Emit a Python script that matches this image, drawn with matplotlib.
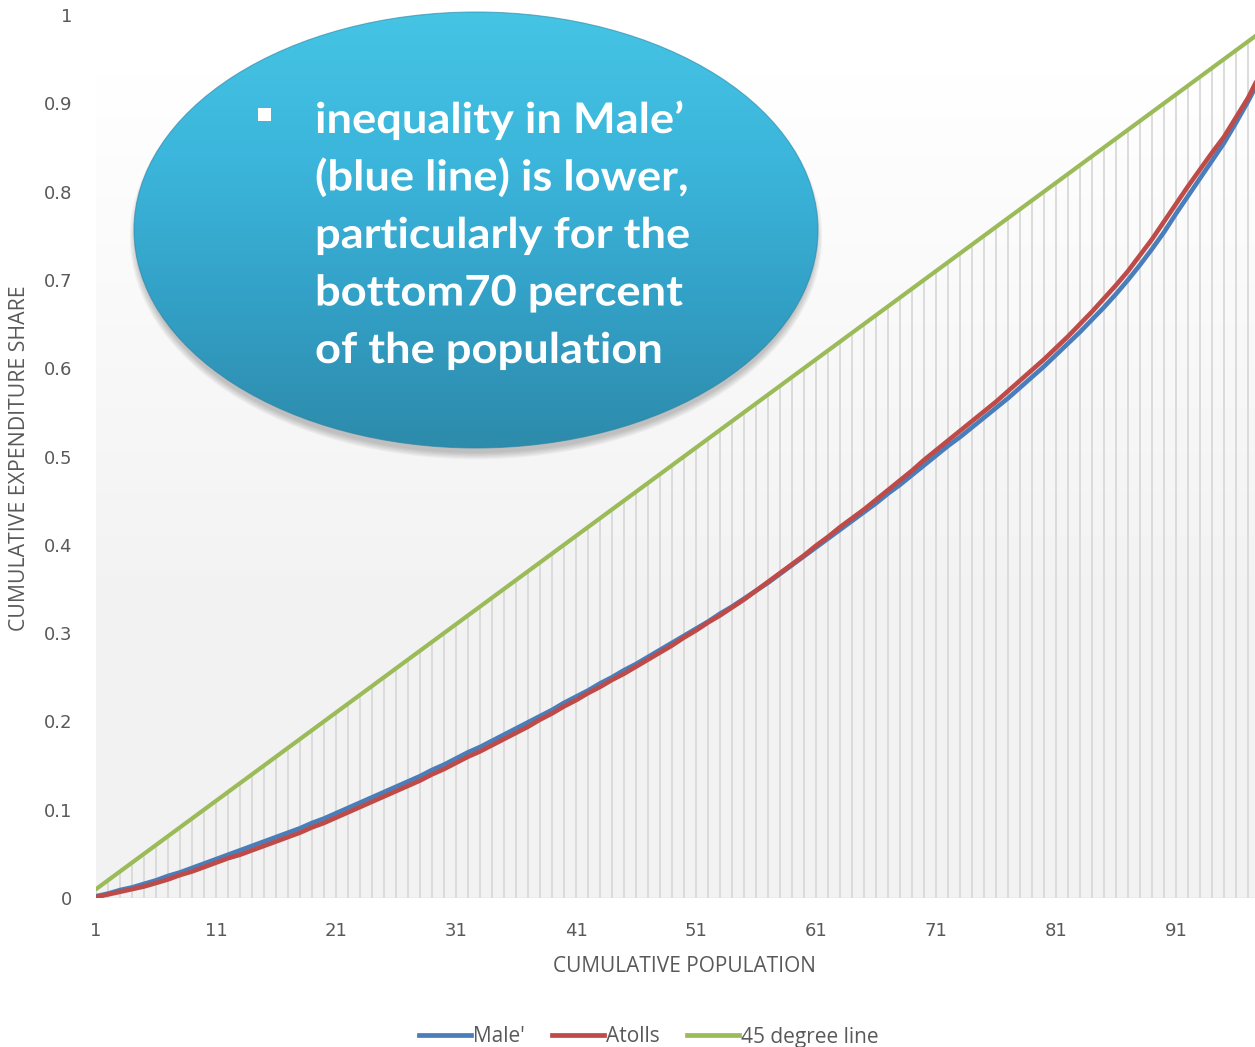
import matplotlib.pyplot as plt
import numpy as np
from matplotlib.patches import Ellipse, PathPatch
from matplotlib.lines import Line2D
from matplotlib.textpath import TextPath
from matplotlib.font_manager import FontProperties
from matplotlib.transforms import Affine2D
from matplotlib.colors import LinearSegmentedColormap

# cumulative population percentile (categories 1..100)
population = list(range(1, 101))

male = [0.002, 0.005, 0.009, 0.012, 0.016, 0.020, 0.025, 0.029, 0.034, 0.039,
        0.044, 0.049, 0.054, 0.059, 0.064, 0.069, 0.074, 0.079, 0.085, 0.090,
        0.096, 0.102, 0.108, 0.114, 0.120, 0.126, 0.132, 0.138, 0.145, 0.151,
        0.158, 0.165, 0.171, 0.178, 0.185, 0.192, 0.199, 0.206, 0.213, 0.221,
        0.228, 0.235, 0.243, 0.250, 0.258, 0.265, 0.273, 0.281, 0.289, 0.297,
        0.305, 0.313, 0.322, 0.330, 0.339, 0.348, 0.357, 0.367, 0.377, 0.387,
        0.397, 0.407, 0.417, 0.427, 0.437, 0.447, 0.458, 0.468, 0.479, 0.490,
        0.501, 0.512, 0.522, 0.533, 0.544, 0.555, 0.566, 0.578, 0.590, 0.602,
        0.615, 0.628, 0.641, 0.655, 0.669, 0.684, 0.700, 0.717, 0.735, 0.754,
        0.775, 0.795, 0.815, 0.835, 0.855, 0.878, 0.902, 0.928, 0.962, 1.000]

atolls = [0.001, 0.004, 0.007, 0.010, 0.013, 0.017, 0.021, 0.026, 0.030, 0.035,
          0.040, 0.045, 0.049, 0.054, 0.059, 0.064, 0.069, 0.074, 0.080, 0.085,
          0.091, 0.097, 0.103, 0.109, 0.115, 0.121, 0.127, 0.133, 0.140, 0.146,
          0.153, 0.160, 0.166, 0.173, 0.180, 0.187, 0.194, 0.202, 0.209, 0.217,
          0.224, 0.232, 0.239, 0.247, 0.254, 0.262, 0.270, 0.278, 0.286, 0.295,
          0.303, 0.312, 0.320, 0.329, 0.338, 0.348, 0.358, 0.368, 0.378, 0.388,
          0.399, 0.409, 0.420, 0.430, 0.440, 0.451, 0.462, 0.473, 0.484, 0.496,
          0.507, 0.518, 0.529, 0.540, 0.551, 0.562, 0.574, 0.586, 0.598, 0.610,
          0.623, 0.636, 0.650, 0.664, 0.679, 0.694, 0.710, 0.728, 0.746, 0.766,
          0.786, 0.806, 0.825, 0.844, 0.862, 0.884, 0.906, 0.933, 0.965, 1.000]

equality = [0.01, 0.02, 0.03, 0.04, 0.05, 0.06, 0.07, 0.08, 0.09, 0.10,
            0.11, 0.12, 0.13, 0.14, 0.15, 0.16, 0.17, 0.18, 0.19, 0.20,
            0.21, 0.22, 0.23, 0.24, 0.25, 0.26, 0.27, 0.28, 0.29, 0.30,
            0.31, 0.32, 0.33, 0.34, 0.35, 0.36, 0.37, 0.38, 0.39, 0.40,
            0.41, 0.42, 0.43, 0.44, 0.45, 0.46, 0.47, 0.48, 0.49, 0.50,
            0.51, 0.52, 0.53, 0.54, 0.55, 0.56, 0.57, 0.58, 0.59, 0.60,
            0.61, 0.62, 0.63, 0.64, 0.65, 0.66, 0.67, 0.68, 0.69, 0.70,
            0.71, 0.72, 0.73, 0.74, 0.75, 0.76, 0.77, 0.78, 0.79, 0.80,
            0.81, 0.82, 0.83, 0.84, 0.85, 0.86, 0.87, 0.88, 0.89, 0.90,
            0.91, 0.92, 0.93, 0.94, 0.95, 0.96, 0.97, 0.98, 0.99, 1.00]

xticks = [1, 11, 21, 31, 41, 51, 61, 71, 81, 91]
yticks = [0, 0.1, 0.2, 0.3, 0.4, 0.5, 0.6, 0.7, 0.8, 0.9, 1]
ytick_labels = ["0", "0.1", "0.2", "0.3", "0.4", "0.5", "0.6", "0.7", "0.8", "0.9", "1"]

note_lines = ["inequality in Male\u2019", "(blue line) is lower,",
              "particularly for the", "bottom70 percent", "of the population"]

BLUE = "#4a7ebb"
RED = "#be4b48"
GREEN = "#9bbb59"
GREY_TXT = "#595959"

W, H = 1255, 1047
fig = plt.figure(figsize=(W / 100, H / 100), dpi=100)
fig.patch.set_facecolor("white")

xmax = 1 + (W - 96) / 12.0
ax = fig.add_axes([96 / W, 149 / H, (W - 96) / W, 883 / H])
ax.set_xlim(1, xmax)
ax.set_ylim(0, 1)

# soft white-to-grey plot area fill
grad = np.clip(np.linspace(-0.1, 1.5, 256), 0, 1).reshape(-1, 1)
ax.imshow(grad, extent=[1, xmax, 0, 1], aspect="auto", origin="upper",
          cmap=LinearSegmentedColormap.from_list("bg", ["#ffffff", "#f2f2f2"]),
          zorder=0)

# drop lines from the 45 degree line
ax.vlines(population, 0, equality, colors="#d9d9d9", linewidth=1.3, zorder=1)

ax.plot(population, equality, color=GREEN, linewidth=3.0, zorder=3,
        solid_capstyle="round")
ax.plot(population, male, color=BLUE, linewidth=3.3, zorder=4,
        solid_capstyle="round")
ax.plot(population, atolls, color=RED, linewidth=3.3, zorder=5,
        solid_capstyle="round")

for s in ax.spines.values():
    s.set_visible(False)
ax.axhline(0, color="#d9d9d9", linewidth=1.0, zorder=2)
ax.set_xticks(xticks)
ax.set_xticklabels([str(t) for t in xticks])
ax.set_yticks(yticks)
ax.set_yticklabels(ytick_labels)
ax.tick_params(length=0, labelsize=13, labelcolor=GREY_TXT)
ax.tick_params(axis="x", pad=17)
ax.tick_params(axis="y", pad=17)

fig.text(20 / W, 1 - 458 / H, "CUMULATIVE EXPENDITURE SHARE", rotation=90,
         ha="center", va="center", fontsize=15.3, color=GREY_TXT,
         family="Open Sans")
fig.text(684 / W, 1 - 967 / H, "CUMULATIVE POPULATION", ha="center",
         va="center", fontsize=15, color=GREY_TXT, family="Open Sans")

# legend
handles = [Line2D([], [], color=c, linewidth=3.4) for c in (BLUE, RED, GREEN)]
fig.legend(handles, ["Male'", "Atolls", "45 degree line"], loc="center",
           bbox_to_anchor=(649 / W, 1 - 1037 / H), ncol=3, frameon=False,
           handlelength=2.5, handletextpad=0.1, columnspacing=1.3,
           prop={"family": "Open Sans", "size": 15}, labelcolor=GREY_TXT)

# callout ellipse drawn in pixel coordinates
ov = fig.add_axes([0, 0, 1, 1], zorder=10)
ov.set_xlim(0, W)
ov.set_ylim(H, 0)
ov.axis("off")
ov.patch.set_alpha(0)

cx, cy, ew, eh = 476, 230, 684, 436
for i in range(6):
    ov.add_patch(Ellipse((cx, cy + 7), ew - 4 + i * 2.5, eh - 4 + i * 2.5,
                         facecolor="black", edgecolor="none", alpha=0.04))
shape = Ellipse((cx, cy), ew, eh, facecolor="none", edgecolor="none")
ov.add_patch(shape)
fill = np.linspace(0, 1, 256).reshape(-1, 1)
img = ov.imshow(fill, extent=[cx - ew / 2, cx + ew / 2, cy + eh / 2, cy - eh / 2],
                aspect="auto", origin="upper",
                cmap=LinearSegmentedColormap.from_list(
                    "blob", ["#45c4e4", "#3cb6dc", "#33a0c6", "#2d8bab"]),
                zorder=2)
img.set_clip_path(shape)
ov.add_patch(Ellipse((cx, cy), ew, eh, facecolor="none", edgecolor="#2a84a4",
                     linewidth=0.8, alpha=0.6, zorder=2.5))
ov.set_xlim(0, W)
ov.set_ylim(H, 0)

# bold white note, squeezed horizontally like a condensed face
bold = FontProperties(family="Lato", weight="bold")
cap = TextPath((0, 0), "H", size=1, prop=bold).get_extents().height
sy = 30.5 / cap
ref_w = TextPath((0, 0), note_lines[2], size=1, prop=bold).get_extents().width
sx = 371.0 / ref_w
for k, line in enumerate(note_lines):
    tp = TextPath((0, 0), line, size=1, prop=bold)
    tf = Affine2D().scale(sx, -sy).translate(315, 133 + k * 57.5) + ov.transData
    ov.add_patch(PathPatch(tp, transform=tf, facecolor="white",
                           edgecolor="none", zorder=3))
ov.add_patch(plt.Rectangle((258, 108), 13, 13, facecolor="white",
                           edgecolor="none", zorder=3))

fig.savefig("out.png", dpi=100)
